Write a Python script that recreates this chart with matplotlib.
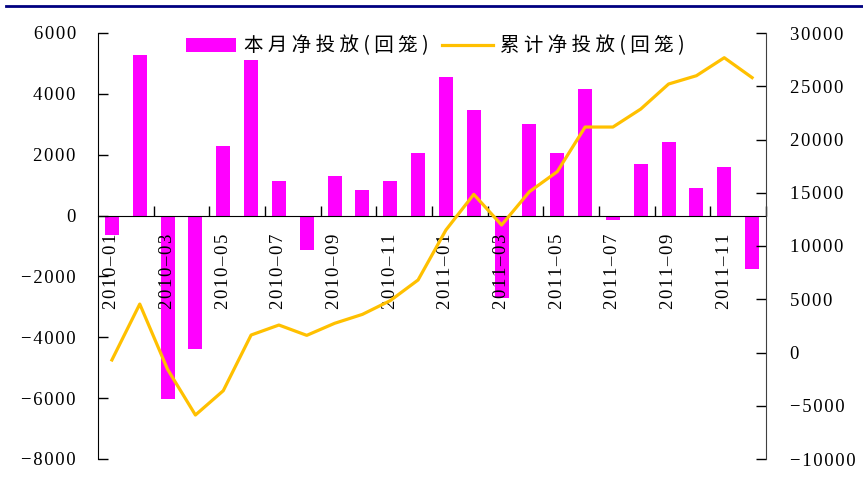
import matplotlib
matplotlib.use("Agg")
import matplotlib.pyplot as plt
from matplotlib.lines import Line2D

months = ["2010-01", "2010-02", "2010-03", "2010-04", "2010-05", "2010-06",
          "2010-07", "2010-08", "2010-09", "2010-10", "2010-11", "2010-12",
          "2011-01", "2011-02", "2011-03", "2011-04", "2011-05", "2011-06",
          "2011-07", "2011-08", "2011-09", "2011-10", "2011-11", "2011-12"]
monthly = [-650, 5270, -6020, -4380, 2300, 5120, 1140, -1120, 1315, 845, 1140, 2070,
           4570, 3470, -2700, 3000, 2070, 4160, -140, 1710, 2420, 900, 1600, -1770]
cumulative = [-700, 4550, -1580, -5870, -3590, 1640, 2580, 1610, 2740, 3580, 4870, 6810,
              11500, 14850, 11970, 15100, 16980, 21170, 21170, 22860, 25210, 25990, 27680, 25810]

bar_name = "本月净投放(回笼)"
line_name = "累计净投放(回笼)"

SERIF = "Liberation Serif"
CJK = ["Noto Sans CJK SC", "DejaVu Sans"]
FS = 13.5


def spaced(s, sep="\u200a"):
    return sep.join(s.replace("-", "\u2013"))


def num(v):
    return spaced(str(v)).replace("\u2013", "\u2212")


W, H = 863, 482
fig = plt.figure(figsize=(W / 100, H / 100), dpi=100)
ax = fig.add_axes([98 / W, 1 - 459 / H, (766 - 98) / W, (459 - 33) / H])
ax2 = ax.twinx()
ax.set_axisbelow(False)

x = list(range(len(months)))
bars = ax.bar(x, monthly, width=0.5, color="#FF00FF", zorder=1)
line, = ax2.plot(x, cumulative, color="#FFC000", lw=2.3, zorder=3)

ax.set_xlim(-0.5, len(months) - 0.5)
ax.set_ylim(-8000, 6000)
ax2.set_ylim(-10000, 30000)

# left axis
lt = list(range(-8000, 6001, 2000))
ax.set_yticks(lt)
ax.set_yticklabels([num(v) for v in lt], fontfamily=SERIF, fontsize=FS)
ax.tick_params(axis="y", direction="in", length=7, pad=16, width=1)

# right axis
rt = list(range(-10000, 30001, 5000))
ax2.set_yticks(rt)
ax2.set_yticklabels([num(v) for v in rt], fontfamily=SERIF, fontsize=FS)
ax2.tick_params(axis="y", direction="in", length=7, pad=17, width=1, colors="black")

# category axis sits on zero
ax.spines["bottom"].set_position(("data", 0))
ax.set_xticks([i + 1.5 for i in range(0, len(months) - 1, 2)])
ax.set_xticklabels([])
ax.tick_params(axis="x", which="major", direction="in", length=7, width=1)
ax.set_xticks(x[::2], minor=True)
ax.set_xticklabels([spaced(m) for m in months[::2]], minor=True, rotation=90,
                   fontfamily=SERIF, fontsize=FS, va="top")
ax.tick_params(axis="x", which="minor", length=0, pad=13)

for s in ["top", "right"]:
    ax.spines[s].set_visible(False)
for s in ["top", "left", "bottom"]:
    ax2.spines[s].set_visible(False)
ax2.spines["right"].set_color("#404040")

ax2.legend([bars, line], [spaced(bar_name, " "), spaced(line_name, " ")],
           ncol=2, frameon=False, loc="upper center", bbox_to_anchor=(0.505, 1.035),
           prop={"family": CJK, "size": 14}, handlelength=2.6, handleheight=0.7,
           columnspacing=0.7, handletextpad=0.4)

fig.add_artist(Line2D([6 / W, 1], [1 - 5.5 / H] * 2, color="#000080", lw=2))

fig.savefig("out.png", dpi=100)
